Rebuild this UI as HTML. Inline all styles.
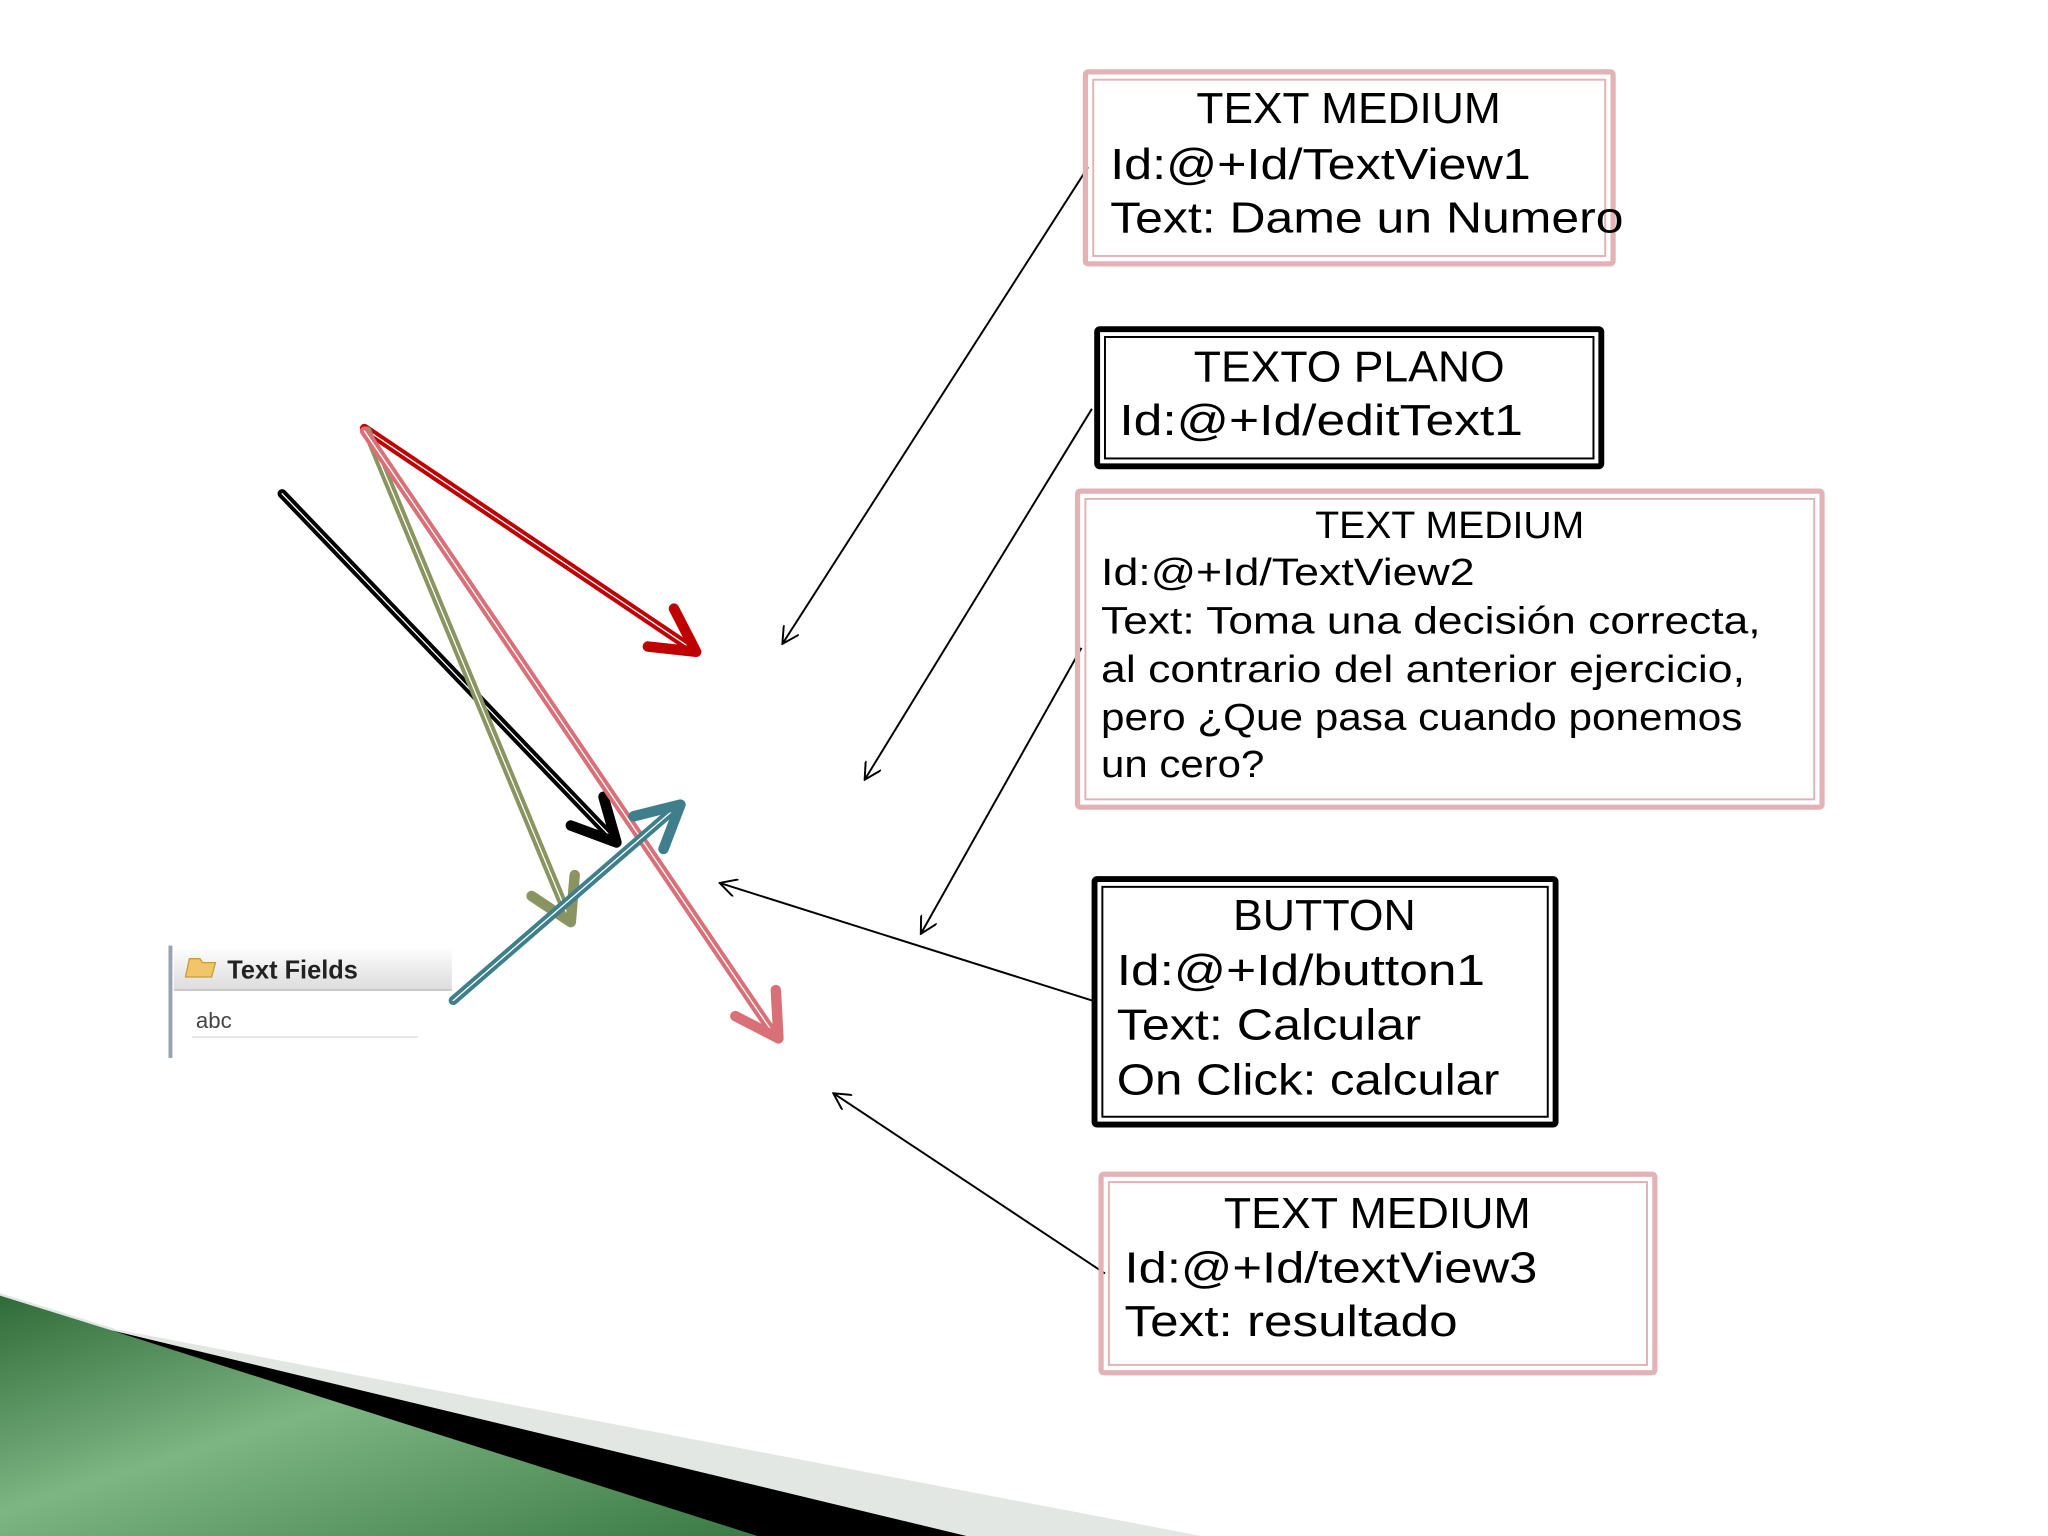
<!DOCTYPE html>
<html><head><meta charset="utf-8"><style>html,body{margin:0;padding:0;background:#fff;}svg{display:block}</style></head>
<body>
<svg width="2048" height="1536" viewBox="0 0 1568 1176" xmlns="http://www.w3.org/2000/svg" font-family="Liberation Sans, DejaVu Sans, sans-serif">
<defs>
<linearGradient id="g" x1="0" y1="0" x2="1" y2="1">
<stop offset="0" stop-color="#2f6b38"/><stop offset="0.45" stop-color="#7db583"/><stop offset="1" stop-color="#3a7a44"/></linearGradient>
<linearGradient id="hd" x1="0" y1="0" x2="0" y2="1"><stop offset="0" stop-color="#fdfdfd"/><stop offset="1" stop-color="#dcdcdc"/></linearGradient>
<marker id="oa" markerWidth="14" markerHeight="14" refX="13" refY="7" orient="auto" markerUnits="userSpaceOnUse"><path d="M0,0 L13,7 L0,14" fill="none" stroke="#000" stroke-width="1.5"/></marker>
</defs>
<polygon points="0,990 90,1018 920,1176 0,1176" fill="#e2e7e3"/>
<polygon points="40,1008 100,1022 740,1176 0,1176" fill="#000"/>
<polygon points="0,992 90,1020 580,1176 0,1176" fill="url(#g)"/>
<rect x="129" y="724" width="3" height="86" fill="#9aa3ad"/>
<rect x="133" y="726" width="213" height="32" fill="url(#hd)"/>
<line x1="133" y1="758" x2="346" y2="758" stroke="#bbb"/>
<path d="M142,748 l3,-14 h8 l2,3 h10 l-3,11 z" fill="#f2c56a" stroke="#c99a3a"/>
<text x="174" y="749" font-size="20" font-weight="bold" fill="#222" textLength="100" lengthAdjust="spacingAndGlyphs">Text Fields</text>
<text x="150" y="787" font-size="17" fill="#444">abc</text>
<line x1="147" y1="794" x2="320" y2="794" stroke="#ddd"/>
<g fill="none" stroke-linecap="round" stroke-linejoin="round">
<line x1="279" y1="328" x2="530" y2="497" stroke="#c00000" stroke-width="7"/>
<line x1="279" y1="328" x2="530" y2="497" stroke="#fff" stroke-width="1"/>
<path d="M496,495 L533,499 L516,466" stroke="#c00000" stroke-width="8"/>
<line x1="216" y1="378" x2="470" y2="643" stroke="#000" stroke-width="7"/>
<line x1="216" y1="378" x2="470" y2="643" stroke="#fff" stroke-width="1"/>
<path d="M437,632 L472,645 L462,610" stroke="#000" stroke-width="8"/>
<line x1="281" y1="330" x2="436" y2="704" stroke="#8a9460" stroke-width="7"/>
<line x1="281" y1="330" x2="436" y2="704" stroke="#fff" stroke-width="1"/>
<path d="M407,686 L437,706 L440,670" stroke="#8a9460" stroke-width="8"/>
<line x1="279" y1="330" x2="594" y2="794" stroke="#d97078" stroke-width="7"/>
<line x1="279" y1="330" x2="594" y2="794" stroke="#fff" stroke-width="1"/>
<path d="M563,778 L596,795 L594,758" stroke="#d97078" stroke-width="8"/>
<line x1="347" y1="766" x2="518" y2="618" stroke="#3f7f8c" stroke-width="7"/>
<line x1="347" y1="766" x2="518" y2="618" stroke="#fff" stroke-width="1"/>
<path d="M485,625 L521,616 L508,650" stroke="#3f7f8c" stroke-width="8"/>
</g>
<g stroke="#000" stroke-width="1.5" fill="none">
<line x1="833" y1="128" x2="599" y2="493" marker-end="url(#oa)"/>
<line x1="836" y1="313" x2="662" y2="597" marker-end="url(#oa)"/>
<line x1="828" y1="496" x2="705" y2="715" marker-end="url(#oa)"/>
<line x1="836" y1="766" x2="551" y2="676" marker-end="url(#oa)"/>
<line x1="846" y1="975" x2="638" y2="837" marker-end="url(#oa)"/>
</g>
<g fill="none">
<rect x="831" y="55" width="404" height="147" stroke="#e3b2b6" stroke-width="4" rx="2"/>
<rect x="837" y="61" width="392" height="135" stroke="#e3b2b6" stroke-width="1.5"/>
<rect x="840" y="252" width="386" height="105" stroke="#000" stroke-width="4.5" rx="2"/>
<rect x="846" y="258" width="374" height="93" stroke="#000" stroke-width="1.5"/>
<rect x="825" y="376" width="570" height="242" stroke="#e3b2b6" stroke-width="4" rx="2"/>
<rect x="831" y="382" width="558" height="230" stroke="#e3b2b6" stroke-width="1.5"/>
<rect x="838" y="673" width="353" height="188" stroke="#000" stroke-width="4.5" rx="2"/>
<rect x="844" y="679" width="341" height="176" stroke="#000" stroke-width="1.5"/>
<rect x="843" y="899" width="424" height="152" stroke="#e3b2b6" stroke-width="4" rx="2"/>
<rect x="849" y="905" width="412" height="140" stroke="#e3b2b6" stroke-width="1.5"/>
</g>
<g fill="#000" font-size="33">
<text x="916" y="94" textLength="233" lengthAdjust="spacingAndGlyphs">TEXT MEDIUM</text>
<text x="850" y="137" textLength="322" lengthAdjust="spacingAndGlyphs">Id:@+Id/TextView1</text>
<text x="850" y="178" textLength="393" lengthAdjust="spacingAndGlyphs">Text: Dame un Numero</text>
<text x="914" y="292" textLength="238" lengthAdjust="spacingAndGlyphs">TEXTO PLANO</text>
<text x="857" y="333" textLength="309" lengthAdjust="spacingAndGlyphs">Id:@+Id/editText1</text>
<text x="944" y="712" textLength="140" lengthAdjust="spacingAndGlyphs">BUTTON</text>
<text x="855" y="754" textLength="282" lengthAdjust="spacingAndGlyphs">Id:@+Id/button1</text>
<text x="855" y="796" textLength="233" lengthAdjust="spacingAndGlyphs">Text: Calcular</text>
<text x="855" y="838" textLength="293" lengthAdjust="spacingAndGlyphs">On Click: calcular</text>
<text x="937" y="940" textLength="235" lengthAdjust="spacingAndGlyphs">TEXT MEDIUM</text>
<text x="861" y="982" textLength="316" lengthAdjust="spacingAndGlyphs">Id:@+Id/textView3</text>
<text x="861" y="1023" textLength="255" lengthAdjust="spacingAndGlyphs">Text: resultado</text>
</g>
<g fill="#000" font-size="29">
<text x="1007" y="412" textLength="206" lengthAdjust="spacingAndGlyphs">TEXT MEDIUM</text>
<text x="843" y="448" textLength="286" lengthAdjust="spacingAndGlyphs">Id:@+Id/TextView2</text>
<text x="843" y="485" textLength="505" lengthAdjust="spacingAndGlyphs">Text: Toma una decisión correcta,</text>
<text x="843" y="522" textLength="493" lengthAdjust="spacingAndGlyphs">al contrario del anterior ejercicio,</text>
<text x="843" y="559" textLength="491" lengthAdjust="spacingAndGlyphs">pero ¿Que pasa cuando ponemos</text>
<text x="843" y="595" textLength="125" lengthAdjust="spacingAndGlyphs">un cero?</text>
</g>
</svg>
</body></html>
